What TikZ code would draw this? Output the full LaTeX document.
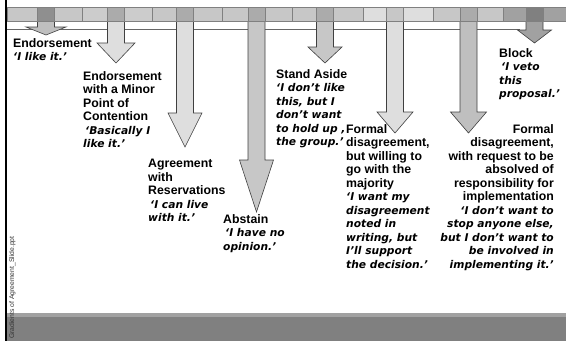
\documentclass[tikz,border=0pt]{standalone}
\usepackage{fontspec}
\setmainfont{Liberation Sans}
\newfontfamily\quotefont{DejaVu Sans Bold Oblique}
\definecolor{gpale}{gray}{0.87}
\definecolor{glight}{gray}{0.80}
\definecolor{gsoft}{gray}{0.78}
\definecolor{gmid}{gray}{0.75}
\definecolor{gcell}{gray}{0.67}
\definecolor{gdark}{gray}{0.63}
\definecolor{gdeep}{gray}{0.56}
\definecolor{gband}{gray}{0.50}
\newcommand{\saying}[1]{{\quotefont\fontsize{10.7}{13.5}\selectfont #1}}

\begin{document}
\begin{tikzpicture}[x=1pt,y=-1pt,
  lbl/.style={font=\fontsize{12.3}{13.5}\selectfont\bfseries,align=left,anchor=north west,inner sep=0pt},
  lblr/.style={lbl,align=right,anchor=north east},
  blockarrow/.style={draw=black!75,line width=0.6pt},
  cellbox/.style={draw=black!50,line width=0.5pt}
]
  \useasboundingbox (0,0) rectangle (566,341);
  % rule under the scale
  \draw[black!60,line width=0.8pt] (6,29.5) -- (520,29.5);
  % the eight arrows
  \foreach \cx/\hb/\tp/\hw/\col in {46/27/35/20/gmid, 116/43/63/19/gpale, 185/113/147/17/gpale,
      256.5/160/212/17/gsoft, 325/47/63/17/gsoft, 395/112/133/18/gpale,
      468.5/112/133/18/gmid, 534.5/30/43/17/gdark}
    \filldraw[blockarrow,fill=\col] (\cx-8.5,14) -- (\cx-8.5,\hb) -- (\cx-\hw,\hb) -- (\cx,\tp)
      -- (\cx+\hw,\hb) -- (\cx+8.5,\hb) -- (\cx+8.5,14) -- cycle;
  % scale bar
  \foreach \gl/\gr/\cx/\gcol/\ccol in {7/82/46/gsoft/gdeep, 82/152/116/glight/gcell,
      152/222/185/gsoft/gcell, 222/292/256.5/gsoft/gcell, 292/363/325/gsoft/gcell,
      363/433/395/gpale/gsoft, 433/503/468.5/gsoft/gcell, 503/566/534.5/gdark/gband}{
    \filldraw[cellbox,fill=\gcol] (\gl,7) rectangle (\gr,21);
    \filldraw[cellbox,fill=\ccol] (\cx-8.5,7) rectangle (\cx+8.5,21);
    \draw[line width=0.8pt] (\gr,7) -- (\gr,21);
  }
  % footer band
  \fill[gdark] (6,313) rectangle (566,317);
  \fill[gband] (6,317) rectangle (566,341);
  \draw[line width=2.2pt] (6.2,0) -- (6.2,341);
  \node[font=\fontsize{6.8}{7}\selectfont,text=black!80,rotate=90,anchor=north west,inner sep=0pt]
    (file) at (9,339) {Gradients of Agreement\_Slide.ppt};
  % labels
  \node[lbl] (endorse) at (13,38) {Endorsement\\\saying{‘I like it.’}};
  \node[lbl] (minor) at (83,71) {Endorsement\\with a Minor\\Point of\\Contention\\
    \saying{\hspace{2pt}‘Basically I}\\\saying{like it.’}};
  \node[lbl] (reserve) at (148,159) {Agreement\\with\\Reservations\\
    \saying{\hspace{2pt}‘I can live}\\\saying{with it.’}};
  \node[lbl] (abstain) at (223,214) {Abstain\\\saying{\hspace{2pt}‘I have no}\\\saying{opinion.’}};
  \node[lbl] (aside) at (276,69) {Stand Aside\\\saying{‘I don’t like}\\\saying{this, but I}\\
    \saying{don’t want}\\\saying{to hold up ,}\\\saying{the group.’}};
  \node[lbl] (formal) at (346,124) {Formal\\disagreement,\\but willing to\\go with the\\majority\\
    \saying{‘I want my}\\\saying{disagreement}\\\saying{noted in}\\\saying{writing, but}\\
    \saying{I’ll support}\\\saying{the decision.’}};
  \node[lblr] (absolve) at (554,124) {Formal\\disagreement,\\with request to be\\absolved of\\
    responsibility for\\implementation\\\saying{‘I don’t want to}\\\saying{stop anyone else,}\\
    \saying{but I don’t want to}\\\saying{be involved in}\\\saying{implementing it.’}};
  \node[lbl] (block) at (499,48) {Block\\\saying{\hspace{2pt}‘I veto}\\\saying{this}\\\saying{proposal.’}};
\end{tikzpicture}
\end{document}
